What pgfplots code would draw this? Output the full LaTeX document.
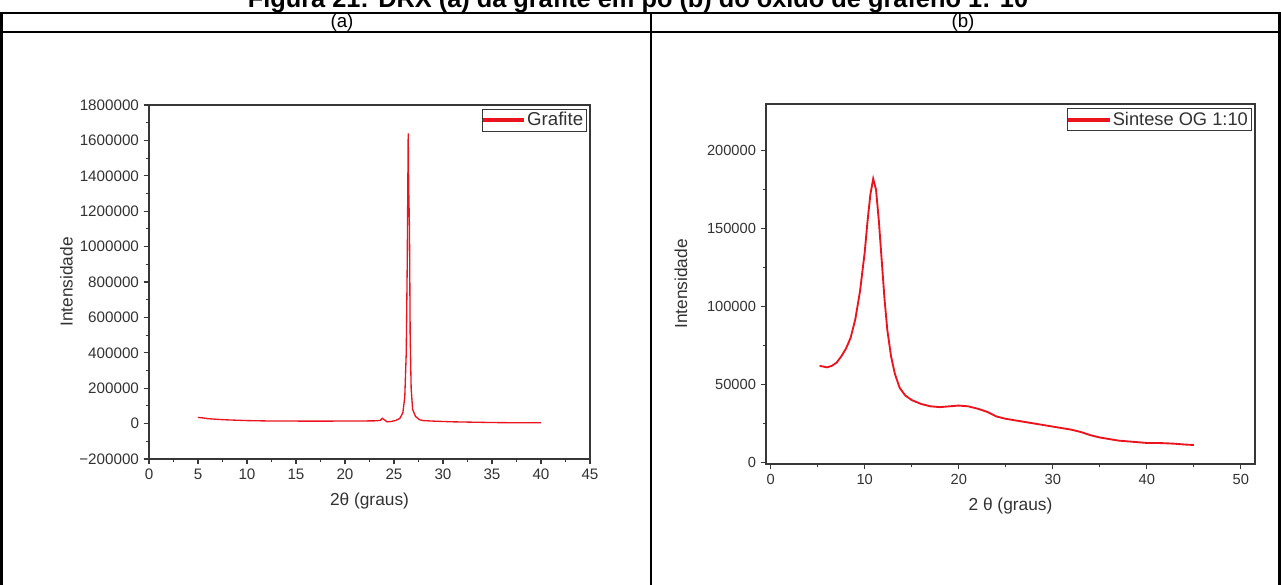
\documentclass[border=0pt]{standalone}
\usepackage{pgfplots}
\pgfplotsset{compat=1.18}
\usepackage{fontspec}
\setmainfont{Liberation Sans}
\definecolor{plotred}{RGB}{235,20,30}
\definecolor{axgray}{RGB}{55,55,55}
\definecolor{txtgray}{RGB}{50,50,50}
\pgfplotsset{
  origin/.style={
    scale only axis,
    axis line style={axgray, line width=1.1pt},
    every tick/.style={axgray, line width=0.8pt},
    tick align=outside,
    xtick pos=bottom, ytick pos=left,
    major tick length=4pt, minor tick length=2.5pt,
    minor x tick num=1, minor y tick num=1,
    /pgf/number format/assume math mode=true,
    scaled y ticks=false,
    yticklabel style={/pgf/number format/fixed, /pgf/number format/1000 sep={}, text=txtgray},
    xticklabel style={text=txtgray},
    legend style={draw=axgray, line width=0.6pt, inner sep=0.5pt, anchor=north east, text=txtgray},
    legend cell align=left,
    legend image code/.code={\fill[plotred] (0pt,-0.75pt) rectangle (30pt,0.75pt);},
  }
}
\begin{document}
\begin{tikzpicture}[x=0.75pt,y=0.75pt]
\useasboundingbox (0,0) rectangle (1281,585);
\clip (0,0) rectangle (1281,585);
\node[anchor=base, inner sep=0pt, font=\bfseries\fontsize{19}{21}\selectfont] at (638,585-8) {Figura 21: DRX (a) da grafite em pó (b) do óxido de grafeno 1: 10};
% table
\draw[line width=1.6pt] (1.5,-10) -- (1.5,585-13) -- (1279.5,585-13) -- (1279.5,-10);
\draw[line width=1.6pt] (1,585-32) -- (1280,585-32);
\draw[line width=1.6pt] (651,585-13) -- (651,-10);
\node[anchor=base, inner sep=0pt, font=\fontsize{14}{16}\selectfont] at (342,585-27.5) {(a)};
\node[anchor=base, inner sep=0pt, font=\fontsize{14}{16}\selectfont] at (963,585-27.5) {(b)};

% (a)
\begin{axis}[origin,
  at={(111.75pt,94.5pt)}, anchor=south west,
  width=330.75pt, height=265.5pt,
  xmin=0, xmax=45, ymin=-200000, ymax=1800000,
  xtick={0,5,...,45},
  ytick={-200000,0,200000,400000,600000,800000,1000000,1200000,1400000,1600000,1800000},
  yticklabels={−200000,0,200000,400000,600000,800000,1000000,1200000,1400000,1600000,1800000},
  ticklabel style={font=\fontsize{11.4}{13}\selectfont},
  xlabel={2θ (graus)}, ylabel={Intensidade},
  label style={font=\fontsize{13}{15}\selectfont, text=txtgray},
  ylabel shift=-2pt, xlabel shift=3pt,
  legend style={font=\fontsize{14}{16}\selectfont, at={(0.993,0.99)}},
]
\addplot[plotred, line width=1pt] coordinates {
(5.0,35000) (5.5,32000) (6,28000) (7,24000) (8,21000) (9,19000) (10,17000)
(11,16000) (12,15000) (14,14500) (16,14000) (18,14000) (20,14500) (22,15000)
(23,15500) (23.6,18000) (23.8,30000) (24.0,22000) (24.3,10000) (24.7,12000)
(25.2,18000) (25.6,30000) (25.9,60000) (26.1,150000) (26.25,400000)
(26.35,900000) (26.45,1640000) (26.5,1330000) (26.58,1100000) (26.65,500000)
(26.75,200000) (26.9,80000) (27.2,40000) (27.6,22000) (28,17000) (29,14000)
(30,12000) (31,10000) (33,8000) (35,6000) (37,5000) (40,4500)
};
\addlegendentry{Grafite}
\end{axis}

% (b)
\begin{axis}[origin,
  at={(574.5pt,90.75pt)}, anchor=south west,
  width=366.75pt, height=270pt,
  xmin=-0.5, xmax=51.5, ymin=-1000, ymax=230000,
  xtick={0,10,...,50},
  ytick={0,50000,100000,150000,200000},
  ticklabel style={font=\fontsize{11}{12}\selectfont},
  xlabel={2 θ (graus)}, ylabel={Intensidade},
  label style={font=\fontsize{13}{15}\selectfont, text=txtgray},
  ylabel shift=8pt, xlabel shift=3pt,
  legend style={font=\fontsize{13.7}{15}\selectfont, at={(0.993,0.988)}},
]
\addplot[plotred, line width=1.4pt] coordinates {
(5.2,62000) (5.6,61500) (6.0,61000) (6.5,62000) (7.0,64000) (7.5,68000)
(8.0,73000) (8.5,80000) (9.0,92000) (9.5,110000) (10.0,135000) (10.3,155000)
(10.6,172000) (10.9,182000) (11.2,175000) (11.5,155000) (11.8,130000)
(12.1,105000) (12.4,85000) (12.8,68000) (13.2,57000) (13.7,48000) (14.3,43000)
(15,40000) (16,37500) (17,36000) (18,35500) (19,36000) (20,36500) (21,36000)
(22,34500) (23,32500) (24,29500) (25,28000) (26,27000) (27,26000) (28,25000)
(29,24000) (30,23000) (31,22000) (32,21000) (33,19500) (34,17500) (35,16000)
(36,15000) (37,14000) (38,13500) (39,13000) (40,12500) (41,12500) (42,12300)
(43,12000) (44,11500) (45,11200)
};
\addlegendentry{Sintese OG 1:10}
\end{axis}
\end{tikzpicture}
\end{document}
